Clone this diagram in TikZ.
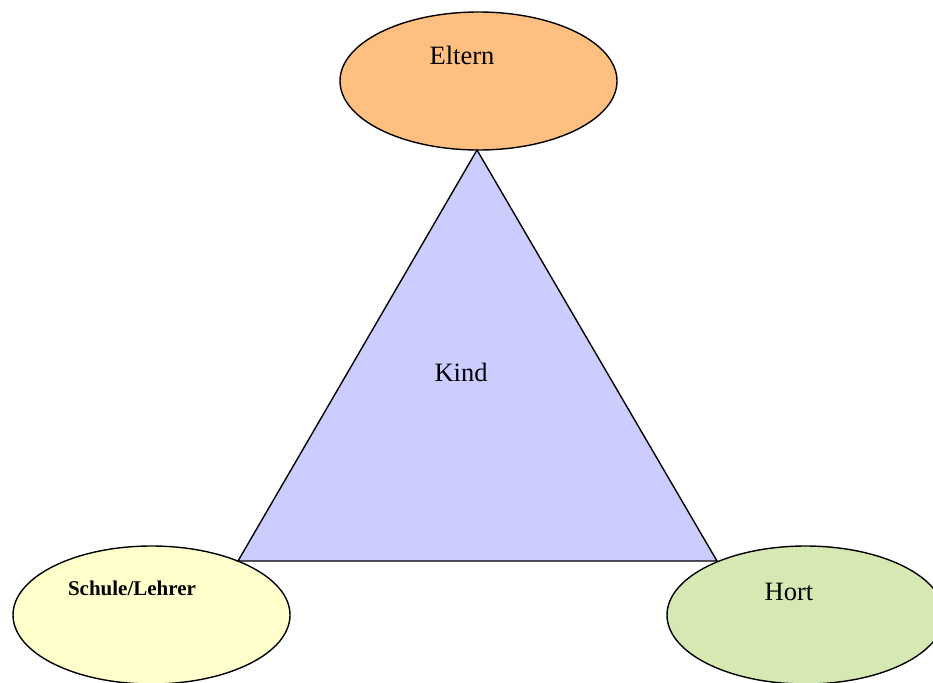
\documentclass[tikz,border=0pt]{standalone}
\usepackage{fontspec}
\setmainfont{Liberation Serif}
\usetikzlibrary{shapes.geometric}
\definecolor{elternc}{RGB}{255,191,128}
\definecolor{kindc}{RGB}{204,204,255}
\definecolor{schulec}{RGB}{255,255,204}
\definecolor{hortc}{RGB}{215,233,178}
\tikzset{
  blob/.style={ellipse, draw=black, line width=1.4pt, minimum width=277pt, minimum height=138pt, inner sep=0pt},
  lbl/.style={anchor=base, inner sep=0pt, font=\fontsize{26.5}{31}\selectfont},
}
\begin{document}
\begin{tikzpicture}[x=1pt,y=-1pt]
\useasboundingbox (0,0) rectangle (933,682);
\begin{scope}
\clip (0,0) rectangle (933,682);
\coordinate (top) at (477,150);
\coordinate (bl) at (238,561);
\coordinate (br) at (717,561);
\node[blob, fill=elternc] (eltern) at (478.5,81) {};
\node[blob, fill=schulec] (schule) at (151.5,615) {};
\node[blob, fill=hortc] (hort) at (805.5,615) {};
\draw[fill=kindc, line width=1.4pt, line join=miter] (top) -- (bl) -- (br) -- cycle;
\node[lbl] (elterntxt) at (462,65) {Eltern};
\node[lbl] (kindtxt) at (461,381) {Kind};
\node[lbl, font=\fontsize{21}{25}\selectfont\bfseries] (schuletxt) at (132,595) {Schule/Lehrer};
\node[lbl] (horttxt) at (789,600) {Hort};
\end{scope}
\end{tikzpicture}
\end{document}
